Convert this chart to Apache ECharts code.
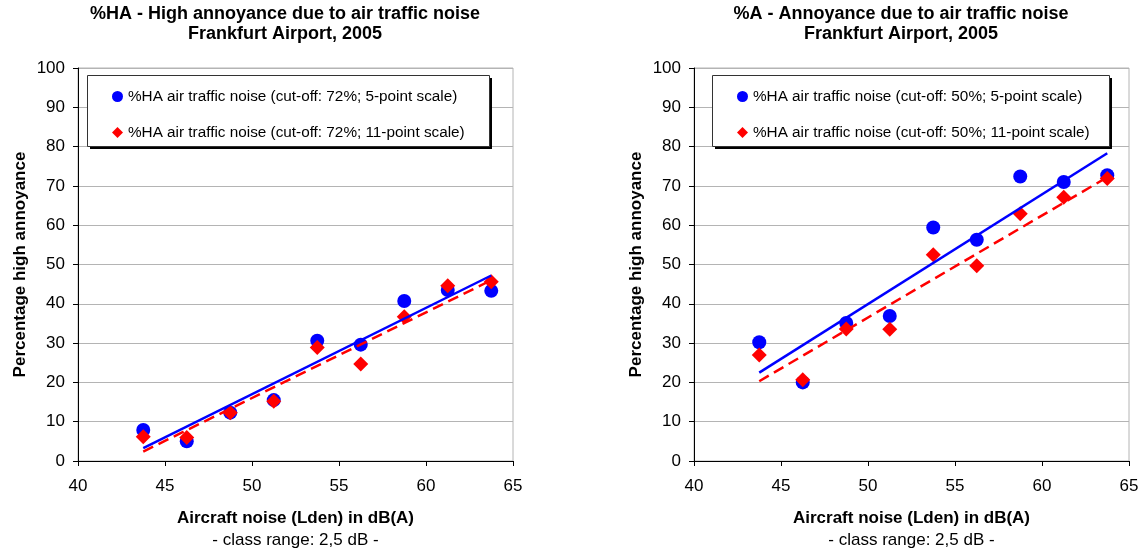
<!DOCTYPE html>
<html>
<head>
<meta charset="utf-8">
<script src="https://cdn.jsdelivr.net/npm/echarts@6/dist/echarts.min.js"></script>
<style>
html,body{margin:0;padding:0;background:#fff;}
#chart{width:1144px;height:554px;}
</style>
</head>
<body>
<div id="chart"></div>
<script>
// Class centres of aircraft noise (Lden) in dB(A)
const noiseLevels = [43.75, 46.25, 48.75, 51.25, 53.75, 56.25, 58.75, 61.25, 63.75];

// Left chart: %HA (cut-off 72%)
const haFivePoint   = [7.9, 5.0, 12.3, 15.5, 30.6, 29.6, 40.7, 43.5, 43.3];
const haElevenPoint = [6.2, 6.0, 12.3, 15.2, 28.9, 24.7, 36.7, 44.6, 45.6];
const haTrendFive   = [[43.75, 3.3], [63.75, 47.2]];
const haTrendEleven = [[43.75, 2.4], [63.75, 46.0]];

// Right chart: %A (cut-off 50%)
const aFivePoint    = [30.2, 20.0, 35.1, 36.9, 59.4, 56.3, 72.4, 71.0, 72.7];
const aElevenPoint  = [27.0, 20.7, 33.6, 33.5, 52.5, 49.7, 62.9, 67.1, 71.9];
const aTrendFive    = [[43.75, 22.5], [63.75, 78.3]];
const aTrendEleven  = [[43.75, 20.3], [63.75, 72.2]];

const xTicks = [40, 45, 50, 55, 60, 65];
const yTicks = [0, 10, 20, 30, 40, 50, 60, 70, 80, 90, 100];

const titlesLeft  = ['%HA - High annoyance due to air traffic noise', 'Frankfurt Airport, 2005'];
const titlesRight = ['%A - Annoyance due to air traffic noise', 'Frankfurt Airport, 2005'];
const yName = 'Percentage high annoyance';
const xName = 'Aircraft noise (Lden) in dB(A)';
const xSub  = '- class range: 2,5 dB -';

const legLeft  = ['%HA air traffic noise (cut-off: 72%; 5-point scale)', '%HA air traffic noise (cut-off: 72%; 11-point scale)'];
const legRight = ['%HA air traffic noise (cut-off: 50%; 5-point scale)', '%HA air traffic noise (cut-off: 50%; 11-point scale)'];

const FONT = '"Liberation Sans", Arial, Helvetica, sans-serif';
const pair = (xs, ys) => xs.map((x, i) => [x, ys[i]]);

const grids = [
  {left: 78, top: 68, width: 435, height: 393},
  {left: 694, top: 68, width: 435, height: 393}
];

function xAxisFor(i) {
  return {
    type: 'value', gridIndex: i, min: xTicks[0], max: xTicks[xTicks.length - 1], interval: 5,
    axisLine: {show: true, onZero: false, lineStyle: {color: '#000', width: 1}},
    axisTick: {show: true, length: 5, lineStyle: {color: '#000'}},
    axisLabel: {color: '#000', fontSize: 17, fontFamily: FONT, margin: 17},
    splitLine: {show: false}
  };
}
function yAxisFor(i) {
  return {
    type: 'value', gridIndex: i, min: yTicks[0], max: yTicks[yTicks.length - 1], interval: 10,
    axisLine: {show: true, lineStyle: {color: '#000', width: 1}},
    axisTick: {show: true, length: 5, lineStyle: {color: '#000'}},
    axisLabel: {color: '#000', fontSize: 17, fontFamily: FONT, margin: 13},
    splitLine: {show: true, lineStyle: {color: '#b4b4b4', width: 1}}
  };
}

function seriesFor(i, names, five, eleven, t5, t11) {
  return [
    {name: names[0], type: 'scatter', xAxisIndex: i, yAxisIndex: i, symbol: 'circle', symbolSize: 14,
     itemStyle: {color: '#0000ff', opacity: 1}, data: pair(noiseLevels, five), z: 2},
    {name: names[1], type: 'scatter', xAxisIndex: i, yAxisIndex: i, symbol: 'diamond', symbolSize: 15,
     itemStyle: {color: '#ff0000', opacity: 1}, data: pair(noiseLevels, eleven), z: 3},
    {name: 'trend5_' + i, type: 'line', xAxisIndex: i, yAxisIndex: i, symbol: 'none', silent: true,
     lineStyle: {color: '#0000ff', width: 2.5}, data: t5, z: 4},
    {name: 'trend11_' + i, type: 'line', xAxisIndex: i, yAxisIndex: i, symbol: 'none', silent: true,
     lineStyle: {color: '#ff0000', width: 2.5, type: [11, 6]}, data: t11, z: 5}
  ];
}

function legendFor(left, names) {
  return {
    left: left, top: 75, orient: 'vertical', itemGap: 21, itemWidth: 11, itemHeight: 11,
    padding: [14, 22, 12, 25], z: 10,
    backgroundColor: 'transparent', borderWidth: 0,
    textStyle: {color: '#000', fontSize: 15.3, fontFamily: FONT},
    selectedMode: false,
    data: [{name: names[0], icon: 'circle'}, {name: names[1], icon: 'diamond'}]
  };
}

function textEl(x, y, text, font, rotate) {
  return {
    type: 'text', x: x, y: y, rotation: rotate || 0, silent: true,
    style: {text: text, font: font, fill: '#000', textAlign: 'center', textVerticalAlign: 'middle'}
  };
}
function boxEls(x, y, w, h) {
  return [
    {type: 'rect', silent: true, z: 3, shape: {x: x + 3, y: y + 3, width: w, height: h}, style: {fill: '#000'}},
    {type: 'rect', silent: true, z: 4, shape: {x: x + 0.5, y: y + 0.5, width: w, height: h},
     style: {fill: '#fff', stroke: '#333', lineWidth: 1}}
  ];
}

const bold18 = 'bold 18px ' + FONT;
const bold17 = 'bold 17px ' + FONT;
const reg17 = '17px ' + FONT;

const graphics = [];
graphics.push(...boxEls(87, 75, 402, 71));
graphics.push(...boxEls(712, 75, 397, 71));
[[285, titlesLeft], [901, titlesRight]].forEach(([cx, t]) => {
  graphics.push(textEl(cx, 14, t[0], bold18));
  graphics.push(textEl(cx, 34, t[1], bold18));
});
[[295.5, 20], [911.5, 636]].forEach(([cx, yx]) => {
  graphics.push(textEl(cx, 518, xName, bold17));
  graphics.push(textEl(cx, 540, xSub, reg17));
  graphics.push(textEl(yx, 264.5, yName, bold17, Math.PI / 2));
});

const chart = echarts.init(document.getElementById('chart'), null, {renderer: 'canvas'});
chart.setOption({
  animation: false,
  backgroundColor: '#fff',
  grid: grids.map(g => Object.assign({show: true, borderColor: '#b4b4b4', borderWidth: 1, backgroundColor: 'transparent'}, g)),
  xAxis: [xAxisFor(0), xAxisFor(1)],
  yAxis: [yAxisFor(0), yAxisFor(1)],
  legend: [legendFor(87, legLeft), legendFor(712, legRight)],
  series: [].concat(
    seriesFor(0, legLeft, haFivePoint, haElevenPoint, haTrendFive, haTrendEleven),
    seriesFor(1, legRight, aFivePoint, aElevenPoint, aTrendFive, aTrendEleven)
  ),
  graphic: graphics
});
</script>
</body>
</html>
